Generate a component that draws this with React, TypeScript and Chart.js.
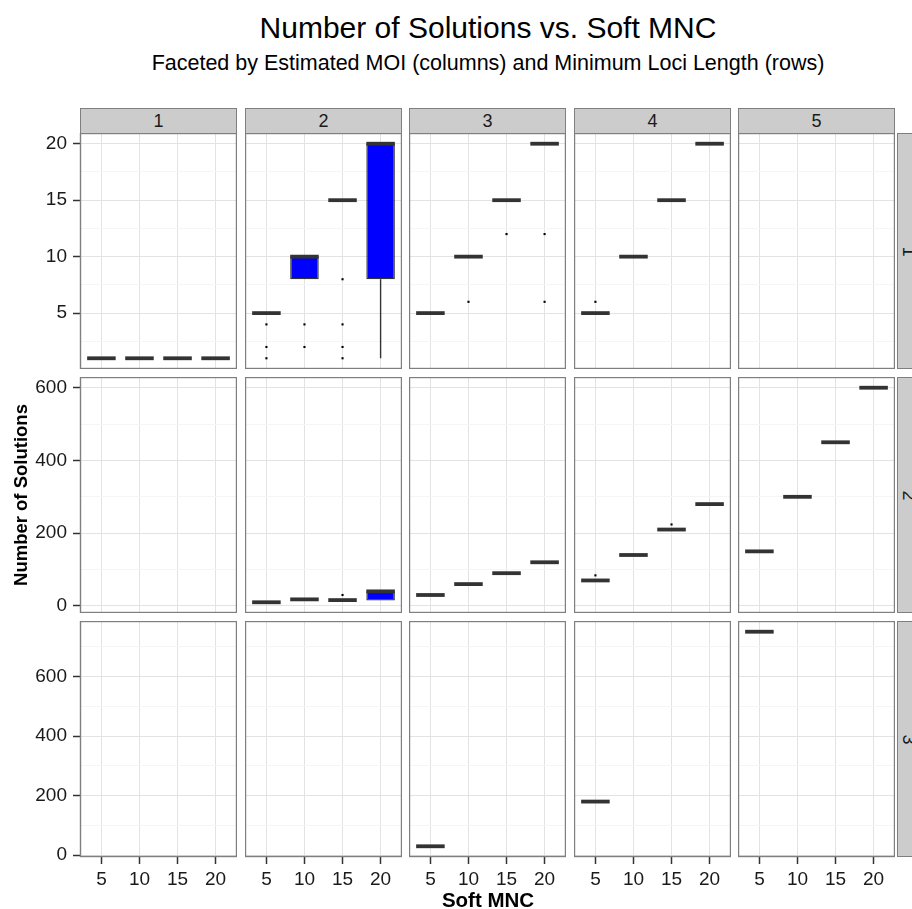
import React, { useEffect, useRef } from 'react';
import { Chart, registerables } from 'chart.js';

Chart.register(...registerables);

// [Soft MNC, lower whisker, Q1, median, Q3, upper whisker, outliers]
type Box = [number, number, number, number, number, number, number[]];

const FONT = "'Liberation Sans', Arial, Helvetica, sans-serif";

const softMNC = [5, 10, 15, 20];
const moiLabels = ['1', '2', '3', '4', '5'];
const lociLabels = ['1', '2', '3'];

// Minimum loci length 1
const loci1Moi1: Box[] = [[5, 1, 1, 1, 1, 1, []], [10, 1, 1, 1, 1, 1, []], [15, 1, 1, 1, 1, 1, []], [20, 1, 1, 1, 1, 1, []]];
const loci1Moi2: Box[] = [[5, 5, 5, 5, 5, 5, [4, 2, 1]], [10, 8, 8, 10, 10, 10, [4, 2]], [15, 15, 15, 15, 15, 15, [8, 4, 2, 1]], [20, 1, 8, 20, 20, 20, []]];
const loci1Moi3: Box[] = [[5, 5, 5, 5, 5, 5, []], [10, 10, 10, 10, 10, 10, [6]], [15, 15, 15, 15, 15, 15, [12]], [20, 20, 20, 20, 20, 20, [12, 6]]];
const loci1Moi4: Box[] = [[5, 5, 5, 5, 5, 5, [6]], [10, 10, 10, 10, 10, 10, []], [15, 15, 15, 15, 15, 15, []], [20, 20, 20, 20, 20, 20, []]];
const loci1Moi5: Box[] = [];

// Minimum loci length 2
const loci2Moi1: Box[] = [];
const loci2Moi2: Box[] = [[5, 10, 10, 10, 10, 10, []], [10, 18, 18, 18, 18, 18, []], [15, 16, 16, 16, 16, 16, [30]], [20, 15, 15, 40, 40, 40, []]];
const loci2Moi3: Box[] = [[5, 30, 30, 30, 30, 30, []], [10, 60, 60, 60, 60, 60, []], [15, 90, 90, 90, 90, 90, []], [20, 120, 120, 120, 120, 120, []]];
const loci2Moi4: Box[] = [[5, 70, 70, 70, 70, 70, [84]], [10, 140, 140, 140, 140, 140, []], [15, 210, 210, 210, 210, 210, [224]], [20, 280, 280, 280, 280, 280, []]];
const loci2Moi5: Box[] = [[5, 150, 150, 150, 150, 150, []], [10, 300, 300, 300, 300, 300, []], [15, 450, 450, 450, 450, 450, []], [20, 600, 600, 600, 600, 600, []]];

// Minimum loci length 3
const loci3Moi1: Box[] = [];
const loci3Moi2: Box[] = [];
const loci3Moi3: Box[] = [[5, 30, 30, 30, 30, 30, []]];
const loci3Moi4: Box[] = [[5, 180, 180, 180, 180, 180, []]];
const loci3Moi5: Box[] = [[5, 750, 750, 750, 750, 750, []]];

// y-axis breaks per row
const row1Major = [5, 10, 15, 20];
const row1Minor = [2.5, 7.5, 12.5, 17.5];
const row2Major = [0, 200, 400, 600];
const row2Minor = [100, 300, 500];
const row3Major = [0, 200, 400, 600];
const row3Minor = [100, 300, 500, 700];

const panelRows: Box[][][] = [
  [loci1Moi1, loci1Moi2, loci1Moi3, loci1Moi4, loci1Moi5],
  [loci2Moi1, loci2Moi2, loci2Moi3, loci2Moi4, loci2Moi5],
  [loci3Moi1, loci3Moi2, loci3Moi3, loci3Moi4, loci3Moi5],
];
const rowMajor = [row1Major, row2Major, row3Major];
const rowMinor = [row1Minor, row2Minor, row3Minor];

// layout
const PANEL_W = 157;
const PANEL_H = 236;
const Y_AXIS_W = 80;
const X_AXIS_H = 52;
const panelLeft = (c: number) => Math.round(80.3 + c * 164.4);
const panelTop = (r: number) => Math.round(133.3 + r * 243.7);

// box half-width 0.75 * 5 / 2, range expanded by 5%
const BOX_HALF = 1.875;
const xSpan = softMNC[softMNC.length - 1] - softMNC[0] + 2 * BOX_HALF;
const X_MIN = softMNC[0] - BOX_HALF - 0.05 * xSpan;
const X_MAX = softMNC[softMNC.length - 1] + BOX_HALF + 0.05 * xSpan;

function rowRange(row: Box[][]): [number, number] {
  const vals: number[] = [];
  row.forEach((p) => p.forEach((b) => vals.push(b[1], b[5], ...b[6])));
  const lo = Math.min(...vals);
  const hi = Math.max(...vals);
  const pad = (hi - lo) * 0.05;
  return [lo - pad, hi + pad];
}
const rowRanges = panelRows.map(rowRange);

const INK = '#1A1A1A';
const GRID_MAJOR = '#E3E3E3';
const GRID_MINOR = '#F5F5F5';
const TICK_SIZE = 19;

function Panel({ row, col }: { row: number; col: number }) {
  const ref = useRef<HTMLCanvasElement>(null);
  const boxes = panelRows[row][col];
  const showY = col === 0;
  const showX = row === lociLabels.length - 1;
  const w = PANEL_W + (showY ? Y_AXIS_W : 0);
  const h = PANEL_H + (showX ? X_AXIS_H : 0);
  const left = panelLeft(col) - (showY ? Y_AXIS_W : 0);
  const top = panelTop(row);

  useEffect(() => {
    const major = rowMajor[row];
    const allTicks = [...major, ...rowMinor[row]].sort((a, b) => a - b);
    const [yMin, yMax] = rowRanges[row];
    const isMajor = (v: number | undefined) => v !== undefined && major.includes(v);

    const boxPlugin = {
      id: 'boxWhiskers',
      beforeDatasetsDraw(chart: any) {
        const { ctx, scales } = chart;
        const xs = scales.x, ys = scales.y;
        ctx.save();
        ctx.strokeStyle = '#333333';
        ctx.lineWidth = 1.4;
        boxes.forEach((b) => {
          const px = xs.getPixelForValue(b[0]);
          ctx.beginPath();
          ctx.moveTo(px, ys.getPixelForValue(b[1]));
          ctx.lineTo(px, ys.getPixelForValue(b[2]));
          ctx.moveTo(px, ys.getPixelForValue(b[4]));
          ctx.lineTo(px, ys.getPixelForValue(b[5]));
          ctx.stroke();
        });
        ctx.restore();
      },
      afterDatasetsDraw(chart: any) {
        const { ctx, scales } = chart;
        const meta = chart.getDatasetMeta(0);
        ctx.save();
        ctx.strokeStyle = '#333333';
        ctx.lineWidth = 3.8;
        ctx.lineCap = 'butt';
        boxes.forEach((b, i) => {
          const el = meta.data[i];
          if (!el) return;
          const half = el.width / 2;
          const py = scales.y.getPixelForValue(b[3]);
          ctx.beginPath();
          ctx.moveTo(el.x - half, py);
          ctx.lineTo(el.x + half, py);
          ctx.stroke();
        });
        ctx.restore();
      },
      afterDraw(chart: any) {
        const { ctx, chartArea: a } = chart;
        ctx.save();
        ctx.strokeStyle = '#7F7F7F';
        ctx.lineWidth = 1.4;
        ctx.strokeRect(a.left + 0.5, a.top + 0.5, a.right - a.left - 1, a.bottom - a.top - 1);
        ctx.restore();
      },
    };

    const chart = new Chart(ref.current as HTMLCanvasElement, {
      type: 'bar',
      data: {
        datasets: [
          {
            type: 'bar',
            data: boxes.map((b) => ({ x: b[0], y: [b[2], b[4]] })) as any,
            backgroundColor: '#0000FF',
            borderColor: '#333333',
            borderWidth: 1.3,
            borderSkipped: false,
            barPercentage: 0.75,
            categoryPercentage: 1,
            order: 2,
          },
          {
            type: 'scatter',
            data: boxes.flatMap((b) => b[6].map((o) => ({ x: b[0], y: o }))) as any,
            pointStyle: 'rect',
            pointRadius: 1.5,
            backgroundColor: '#000000',
            borderWidth: 0,
            order: 1,
          },
        ],
      },
      options: {
        animation: false,
        responsive: false,
        maintainAspectRatio: false,
        events: [],
        layout: { padding: 0, autoPadding: false },
        plugins: { legend: { display: false }, tooltip: { enabled: false } },
        scales: {
          x: {
            type: 'linear',
            min: X_MIN,
            max: X_MAX,
            offset: false,
            afterBuildTicks: (s: any) => {
              s.ticks = softMNC.map((v) => ({ value: v }));
            },
            ticks: {
              display: showX,
              autoSkip: false,
              maxRotation: 0,
              padding: 4,
              color: INK,
              font: { family: FONT, size: TICK_SIZE },
              callback: (v: any) => String(v),
            },
            grid: {
              offset: false,
              color: GRID_MAJOR,
              lineWidth: 1,
              drawTicks: showX,
              tickLength: 7,
              tickColor: '#333333',
              tickWidth: 1.5,
            },
            border: { display: false },
            afterFit: (s: any) => {
              s.height = showX ? X_AXIS_H : 0;
              s.paddingLeft = 0;
              s.paddingRight = 0;
            },
          },
          y: {
            type: 'linear',
            min: yMin,
            max: yMax,
            afterBuildTicks: (s: any) => {
              s.ticks = allTicks.map((v) => ({ value: v }));
            },
            ticks: {
              display: showY,
              autoSkip: false,
              padding: 6,
              color: INK,
              font: { family: FONT, size: TICK_SIZE },
              callback: (v: any) => (major.includes(v) ? String(v) : ''),
            },
            grid: {
              color: (c: any) => (isMajor(c.tick?.value) ? GRID_MAJOR : GRID_MINOR),
              lineWidth: 1,
              drawTicks: showY,
              tickLength: 7,
              tickColor: (c: any) => (isMajor(c.tick?.value) ? '#333333' : 'rgba(0,0,0,0)'),
              tickWidth: 1.5,
            },
            border: { display: false },
            afterFit: (s: any) => {
              s.width = showY ? Y_AXIS_W : 0;
              s.paddingTop = 0;
              s.paddingBottom = 0;
            },
          },
        },
      } as any,
      plugins: [boxPlugin],
    });
    return () => chart.destroy();
  }, [row, col]);

  return (
    <canvas
      ref={ref}
      width={w}
      height={h}
      style={{ position: 'absolute', left, top, width: w, height: h }}
    />
  );
}

const stripStyle: React.CSSProperties = {
  position: 'absolute',
  boxSizing: 'border-box',
  background: '#CCCCCC',
  border: '1px solid #7F7F7F',
  color: INK,
  fontFamily: FONT,
  fontSize: 18,
  display: 'flex',
  alignItems: 'center',
  justifyContent: 'center',
};

export default function App() {
  return (
    <div
      style={{
        position: 'absolute',
        left: 0,
        top: 0,
        width: 912,
        height: 909,
        overflow: 'hidden',
        background: '#FFFFFF',
        fontFamily: FONT,
      }}
    >
      <div style={{ position: 'absolute', left: 88, width: 800, top: 13, fontSize: 30, lineHeight: '30px', textAlign: 'center', color: '#000' }}>
        Number of Solutions vs. Soft MNC
      </div>
      <div style={{ position: 'absolute', left: 38, width: 900, top: 52, fontSize: 21.5, lineHeight: '22px', textAlign: 'center', color: '#000' }}>
        Faceted by Estimated MOI (columns) and Minimum Loci Length (rows)
      </div>

      {moiLabels.map((m, c) => (
        <div key={'s' + m} style={{ ...stripStyle, left: panelLeft(c), top: 108, width: PANEL_W, height: 26 }}>
          {m}
        </div>
      ))}
      {lociLabels.map((l, r) => (
        <div key={'r' + l} style={{ ...stripStyle, left: 897, top: panelTop(r), width: 22, height: PANEL_H }}>
          <span style={{ display: 'inline-block', transform: 'rotate(90deg)' }}>{l}</span>
        </div>
      ))}

      {panelRows.map((rowPanels, r) =>
        rowPanels.map((_, c) => <Panel key={r + '-' + c} row={r} col={c} />)
      )}

      <div style={{ position: 'absolute', left: 88, width: 800, top: 889, fontSize: 20.5, lineHeight: '21px', fontWeight: 'bold', textAlign: 'center', color: '#000' }}>
        Soft MNC
      </div>
      <div
        style={{
          position: 'absolute',
          left: 21,
          top: 495,
          width: 0,
          height: 0,
          overflow: 'visible',
        }}
      >
        <div
          style={{
            position: 'absolute',
            left: -150,
            top: -10,
            width: 300,
            fontSize: 18.5,
            lineHeight: '20px',
            fontWeight: 'bold',
            textAlign: 'center',
            color: '#000',
            transform: 'rotate(-90deg)',
            whiteSpace: 'nowrap',
          }}
        >
          Number of Solutions
        </div>
      </div>
    </div>
  );
}
